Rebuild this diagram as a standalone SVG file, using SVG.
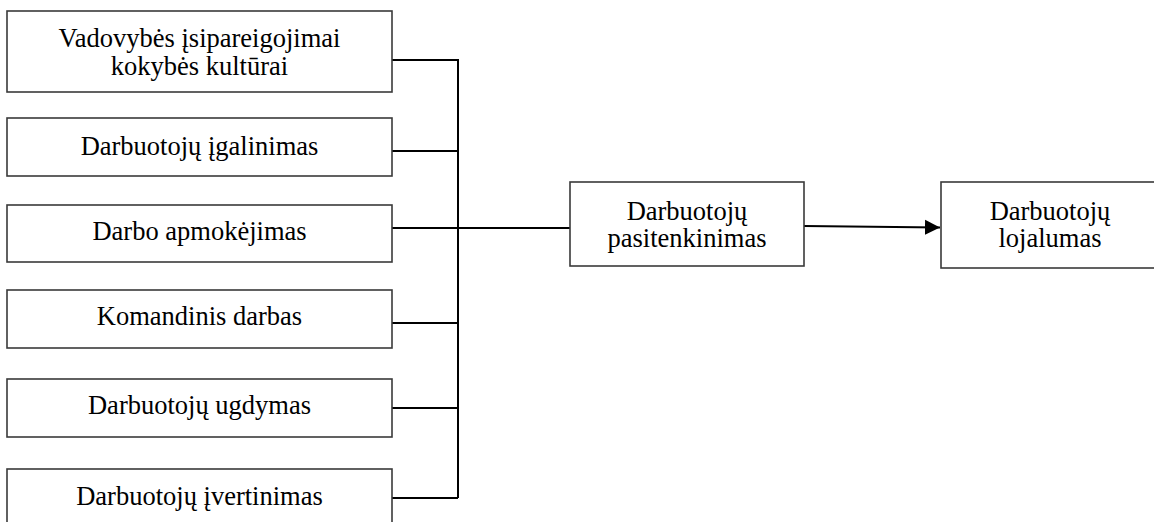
<svg xmlns="http://www.w3.org/2000/svg" width="1154" height="522" viewBox="0 0 1154 522">
<style>
.box{fill:#fff;stroke:#3a3a3a;stroke-width:1.6}
.t{font-family:'Liberation Serif','DejaVu Serif',serif;font-size:26.5px;fill:#000;text-anchor:middle}
.c{fill:none;stroke:#000;stroke-width:2}
</style>
<defs>
<marker id="ah" markerUnits="userSpaceOnUse" markerWidth="16" markerHeight="16" refX="15" refY="8" orient="auto">
<path d="M0,0.5 L15,8 L0,15.5 Z" fill="#000"/>
</marker>
</defs>
<rect width="1154" height="522" fill="#fff"/>
<g id="connectors">
<path class="c" d="M392,60 H458 V498 M392,151 H458 M392,228 H570 M392,323 H458 M392,408 H458 M392,498 H458"/>
<path class="c" d="M804,226 L940,227.5" stroke-width="2.6" marker-end="url(#ah)"/>
</g>
<g id="n1"><rect class="box" x="7" y="11" width="385" height="81"/><text class="t" x="199.5" y="47">Vadovybės įsipareigojimai</text><text class="t" x="199.5" y="75">kokybės kultūrai</text></g>
<g id="n2"><rect class="box" x="7" y="118" width="385" height="58"/><text class="t" x="199.5" y="155">Darbuotojų įgalinimas</text></g>
<g id="n3"><rect class="box" x="7" y="205" width="385" height="57"/><text class="t" x="199.5" y="240">Darbo apmokėjimas</text></g>
<g id="n4"><rect class="box" x="7" y="290" width="385" height="58"/><text class="t" x="199.5" y="325">Komandinis darbas</text></g>
<g id="n5"><rect class="box" x="7" y="379" width="385" height="58"/><text class="t" x="199.5" y="414">Darbuotojų ugdymas</text></g>
<g id="n6"><rect class="box" x="7" y="469" width="385" height="70"/><text class="t" x="199.5" y="505">Darbuotojų įvertinimas</text></g>
<g id="n7"><rect class="box" x="570" y="182" width="234" height="84"/><text class="t" x="687" y="220">Darbuotojų</text><text class="t" x="687" y="247">pasitenkinimas</text></g>
<g id="n8"><rect class="box" x="941" y="182" width="218" height="86"/><text class="t" x="1050" y="220">Darbuotojų</text><text class="t" x="1050" y="247">lojalumas</text></g>
</svg>
